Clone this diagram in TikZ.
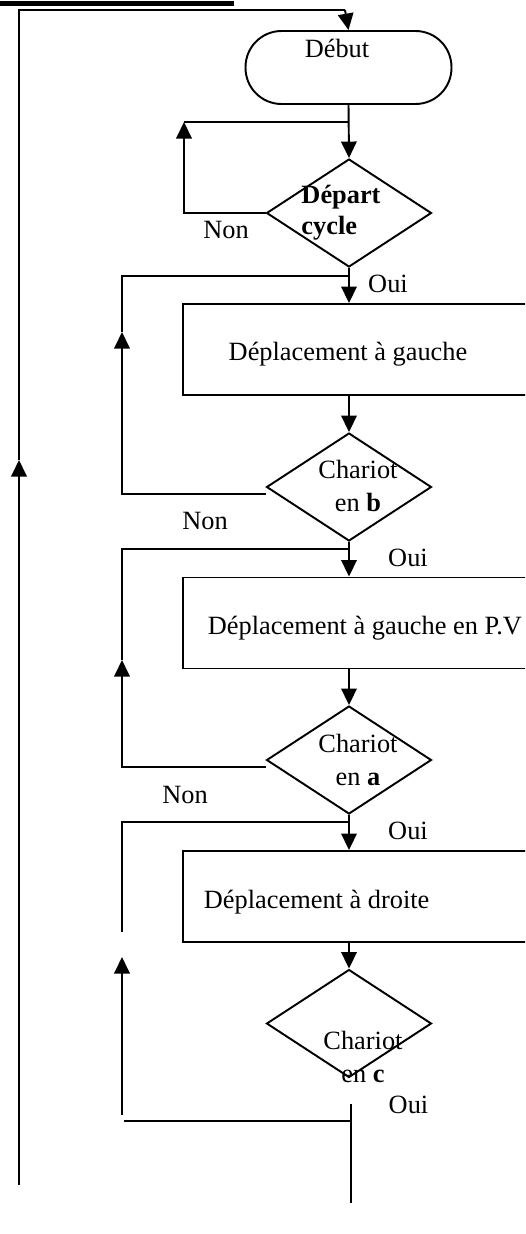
\documentclass[tikz,border=0pt]{standalone}
\usepackage{fontspec}
\setmainfont{Liberation Serif}
\usetikzlibrary{positioning,calc,arrows.meta,shapes.geometric}

\begin{document}
\begin{tikzpicture}[
  x=0.02cm, y=-0.02cm,
  >={Triangle[width=3.1mm,length=3.3mm]},
  line width=1.1pt,
  every node/.style={font=\fontsize{15}{18.5}\selectfont},
  term/.style={draw, rounded corners=7.2mm, minimum width=4.12cm, minimum height=1.46cm, inner sep=0pt},
  test/.style={diamond, draw, minimum width=3.3cm, minimum height=2.16cm, inner sep=0pt},
  action/.style={draw, minimum width=7.24cm, minimum height=1.82cm, inner sep=0pt},
  lbl/.style={inner sep=0pt}
]

\useasboundingbox (0,0) rectangle (525,1234);
\clip (0,0) rectangle (525,1234);

% Heading rule
\fill (0,1) rectangle (234,6);

% Start
\node[term] (debut) at (348.5,67.5) {};
\node[lbl] (debuttxt) at (337,48) {Début};

% Tests
\node[test] (d1) at (349,213) {};
\node[test] (d2) at (349,487) {};
\node[test] (d3) at (349,760) {};
\node[test] (d4) at (349,1023.5) {};

\node[lbl, align=left, font=\fontsize{15}{17.8}\selectfont\bfseries] (d1txt) at (341,213) {Départ\\cycle};
\node[lbl, align=center] (d2txt) at (358,486) {Chariot\\en \textbf{b}};
\node[lbl, align=center] (d3txt) at (358,760) {Chariot\\en \textbf{a}};
\node[lbl, align=center] (d4txt) at (363,1057) {Chariot\\en \textbf{c}};

% Actions
\node[action] (move1) at (364,349.5) {};
\node[action] (move2) at (364,623) {};
\node[action] (move3) at (364,896.5) {};

\node[lbl] (move1txt) at (348,354) {Déplacement à gauche};
\node[lbl, anchor=west] (move2txt) at (207,628) {Déplacement à gauche en P.V};
\node[lbl, anchor=west] (move3txt) at (203,902) {Déplacement à droite};

% Main flow
\draw[->] (debut.south) -- (d1.north);
\draw[->] (d1.south) -- (move1.north -| d1.south);
\draw[->] (move1.south -| d2.north) -- (d2.north);
\draw[->] (d2.south) -- (move2.north -| d2.south);
\draw[->] (move2.south -| d3.north) -- (d3.north);
\draw[->] (d3.south) -- (move3.north -| d3.south);
\draw[->] (move3.south -| d4.north) -- (d4.north);

% Wait on start cycle
\coordinate (j1) at (349,122);
\coordinate (k1) at (184,122);
\draw[->] (d1.west) -| (k1);
\draw (k1) -- (j1);

% Loops back on each test
\coordinate (j2) at (349,276);
\coordinate (k2) at (122,332);
\draw[->] ($(d2.west)+(0,7)$) -| (k2);
\draw (k2) |- (j2);

\coordinate (j3) at (349,549);
\coordinate (k3) at (122,660);
\draw[->] ($(d3.west)+(0,7)$) -| (k3);
\draw (k3) |- (j3);

\coordinate (j4) at (349,822);
\coordinate (k4) at (122,932);
\draw (k4) |- (j4);

\coordinate (m4) at (122,957);
\coordinate (n4) at (122,1115);
\draw[->] (n4) -- (m4);
\coordinate (p4) at (124,1121);
\coordinate (q4) at (351,1121);
\draw (p4) -- (q4);
\coordinate (r4) at (351,1104);
\coordinate (s4) at (351,1203);
\draw (r4) -- (s4);

% Return to start along the left
\coordinate (back0) at (19,1185);
\coordinate (back1) at (19,460);
\coordinate (back2) at (19,10);
\coordinate (back3) at (345,10);
\draw[->] (back0) -- (back1);
\draw (back1) -- (back2) -- (back3);
\draw[->] (back3) -- (debut.north);

% Answers
\node[lbl] (non1) at (226,230) {Non};
\node[lbl] (non2) at (205,521) {Non};
\node[lbl] (non3) at (185,794.5) {Non};
\node[lbl] (oui1) at (388,284) {Oui};
\node[lbl] (oui2) at (408,558) {Oui};
\node[lbl] (oui3) at (408,831) {Oui};
\node[lbl] (oui4) at (408.5,1105) {Oui};

\end{tikzpicture}
\end{document}
